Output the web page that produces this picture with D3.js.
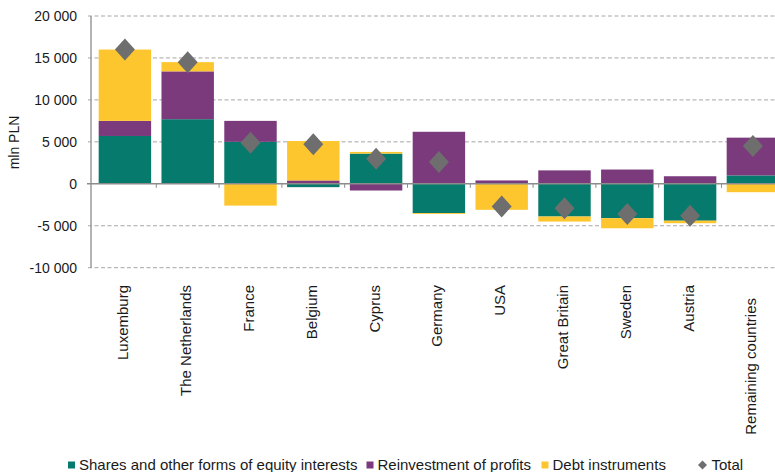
<!DOCTYPE html>
<html>
<head>
<meta charset="utf-8">
<script src="https://cdn.jsdelivr.net/npm/d3@7/dist/d3.min.js"></script>
<style>
  html, body { margin: 0; padding: 0; background: #fff; }
  svg { display: block; font-family: "Liberation Sans", Arial, sans-serif; }
</style>
</head>
<body>
<svg id="chart" width="775" height="472"></svg>
<script>
// Direct investment flows by country, mln PLN
const countries = ["Luxemburg", "The Netherlands", "France", "Belgium", "Cyprus", "Germany",
                   "USA", "Great Britain", "Sweden", "Austria", "Remaining countries"];
const equity     = [5700, 7700, 5000, -400, 3600, -3500,     0, -3900, -4100, -4400, 1000];
const reinvested = [1800, 5700, 2500,  400, -800,  6200,   400,  1600,  1700,   900, 4500];
const debt       = [8500, 1100, -2600, 4700, 200,  -100, -3100,  -600, -1200,  -300, -1000];
const total      = [16000, 14500, 4900, 4700, 3000, 2600, -2700, -2900, -3600, -3800, 4500];
const yTicks     = [-10000, -5000, 0, 5000, 10000, 15000, 20000];

const seriesNames  = ["Shares and other forms of equity interests", "Reinvestment of profits", "Debt instruments"];
const seriesKeys   = ["equity", "reinvested", "debt"];
const seriesColors = ["#067a6c", "#7b3a7c", "#fec62e"];
const totalName    = "Total";
const totalColor   = "#6e6e6e";

const rows = countries.map((c, i) => ({
  country: c, equity: equity[i], reinvested: reinvested[i], debt: debt[i], total: total[i]
}));

const svg = d3.select("#chart");

const axisX = 91, plotRight = 775;
const y = d3.scaleLinear().domain([-10000, 20000]).range([267.7, 16]);
const x = d3.scaleBand().domain(countries)
  .range([93.5, 93.5 + 62.8 * countries.length])
  .paddingInner(0.165).paddingOuter(0.0825);

// dashed gridlines
svg.append("g").selectAll("line").data(yTicks.filter(t => t !== 0)).join("line")
  .attr("x1", 88).attr("x2", plotRight)
  .attr("y1", d => y(d)).attr("y2", d => y(d))
  .attr("stroke", "#a6a6a6").attr("stroke-width", 1)
  .attr("stroke-dasharray", "4,2.5");

// y tick labels with a space as thousands separator
svg.append("g").selectAll("text").data(yTicks).join("text")
  .attr("x", 77).attr("y", d => y(d))
  .attr("dy", "0.36em").attr("text-anchor", "end")
  .attr("font-size", 14).attr("fill", "#1a1a1a")
  .text(d => d3.format(",")(d).replace(/,/g, " ").replace("\u2212", "-"));

// y axis title
svg.append("text")
  .attr("transform", `translate(19,142.5) rotate(-90)`)
  .attr("text-anchor", "middle").attr("font-size", 14).attr("fill", "#1a1a1a")
  .text("mln PLN");

// stacked bars, positives above and negatives below zero
const stack = d3.stack().keys(seriesKeys).offset(d3.stackOffsetDiverging);
const layers = stack(rows);

svg.append("g").selectAll("g").data(layers).join("g")
  .attr("fill", (d, i) => seriesColors[i])
  .selectAll("rect").data(d => d).join("rect")
  .attr("x", d => x(d.data.country))
  .attr("width", x.bandwidth())
  .attr("y", d => y(Math.max(d[0], d[1])))
  .attr("height", d => Math.abs(y(d[0]) - y(d[1])));

// y axis line
svg.append("line")
  .attr("x1", axisX).attr("x2", axisX).attr("y1", 16).attr("y2", 268)
  .attr("stroke", "#9a9a9a").attr("stroke-width", 1.5);

// zero line with category separators
const zeroY = y(0);
svg.append("line")
  .attr("x1", 87).attr("x2", plotRight).attr("y1", zeroY).attr("y2", zeroY)
  .attr("stroke", "#8c8c8c").attr("stroke-width", 1.5);
svg.append("g").selectAll("line").data(countries.slice(1)).join("line")
  .attr("x1", d => x(d) - x.step() * x.paddingInner() / 2)
  .attr("x2", d => x(d) - x.step() * x.paddingInner() / 2)
  .attr("y1", zeroY).attr("y2", zeroY + 4)
  .attr("stroke", "#8c8c8c").attr("stroke-width", 1);

// total markers
const diamond = (w, h) => `M0,${-h}L${w},0L0,${h}L${-w},0Z`;
svg.append("g").selectAll("path").data(rows).join("path")
  .attr("transform", d => `translate(${x(d.country) + x.bandwidth() / 2},${y(d.total)})`)
  .attr("d", diamond(10, 11))
  .attr("fill", totalColor);

// category labels, rotated; the long last label sits a little lower
svg.append("g").selectAll("text").data(countries).join("text")
  .attr("transform", (d, i) => {
    const top = i === countries.length - 1 ? 298 : 285;
    return `translate(${x(d) + x.bandwidth() / 2 - 2},${top}) rotate(-90)`;
  })
  .attr("text-anchor", "end").attr("dy", "0.36em")
  .attr("font-size", 15).attr("fill", "#1a1a1a")
  .text(d => d);

// legend
const legend = svg.append("g").attr("font-size", 15).attr("fill", "#1a1a1a");
const legendX = [68, 366.5, 541.5];
seriesNames.forEach((name, i) => {
  legend.append("rect")
    .attr("x", legendX[i]).attr("y", 461.5).attr("width", 7).attr("height", 7)
    .attr("fill", seriesColors[i]);
  legend.append("text")
    .attr("x", legendX[i] + 11).attr("y", 465).attr("dy", "0.36em")
    .text(name);
});
legend.append("path")
  .attr("transform", "translate(702.5,465)")
  .attr("d", diamond(4.5, 4.5))
  .attr("fill", totalColor);
legend.append("text")
  .attr("x", 711.5).attr("y", 465).attr("dy", "0.36em")
  .text(totalName);
</script>
</body>
</html>
